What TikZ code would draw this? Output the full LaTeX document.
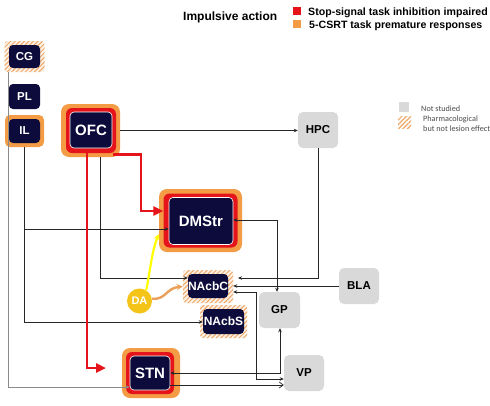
\documentclass[tikz,border=0pt]{standalone}
\usepackage{fontspec}
\setmainfont{Liberation Sans}
\newfontfamily\legfont{Carlito}
\usetikzlibrary{arrows.meta,patterns.meta,calc,backgrounds}
\definecolor{navy}{HTML}{0D0B3B}
\definecolor{ringred}{HTML}{E5141B}
\definecolor{ringorange}{HTML}{F39C45}
\definecolor{hatchor}{HTML}{EFA868}
\definecolor{hatchbg}{HTML}{FBF1E6}
\definecolor{greybox}{HTML}{D9D9D9}
\definecolor{dayellow}{HTML}{F4C419}
\definecolor{arrowyellow}{HTML}{FFFF00}
\definecolor{arroworange}{HTML}{E9A05A}
\definecolor{linegrey}{HTML}{8A8A8A}
\definecolor{lineblack}{HTML}{262626}
\begin{document}
\begin{tikzpicture}[x=1pt,y=-1pt,
  darkbox/.style={fill=navy, rounded corners=4pt, text=white, inner sep=0pt},
  darkwhite/.style={darkbox, draw=white, line width=0.6pt},
  orring/.style={fill=ringorange, rounded corners=8pt, inner sep=0pt},
  redring/.style={fill=ringred, rounded corners=6pt, inner sep=0pt},
  hatchbox/.style={fill=hatchbg, rounded corners=3pt, inner sep=0pt,
    postaction={pattern={Lines[angle=45,distance=3.2pt,line width=1pt]}, pattern color=hatchor}},
  greynode/.style={fill=greybox, rounded corners=5pt, inner sep=0pt, minimum width=40pt, minimum height=36pt,
    text=black, font=\fontsize{11.5}{12}\selectfont\bfseries},
  conn/.style={draw=lineblack, line width=0.7pt, -{Stealth[length=4pt,width=3.5pt]}},
  conn2/.style={draw=lineblack, line width=0.7pt, {Stealth[length=4pt,width=3.5pt]}-{Stealth[length=4pt,width=3.5pt]}},
  redarrow/.style={draw=ringred, line width=2.6pt, -{Triangle[length=10pt,width=9pt]}},
  legtext/.style={anchor=west, inner sep=0pt, font=\fontsize{10.6}{11}\selectfont\bfseries, text=black},
  smalltext/.style={anchor=west, inner sep=0pt, font=\legfont\fontsize{8.2}{9}\selectfont, text=black!70}
]
\useasboundingbox (0,0) rectangle (490,405);
\fill[white] (0,0) rectangle (490,405);

% ---------- legend ----------
\node[anchor=west, inner sep=0pt, font=\fontsize{12}{12}\selectfont\bfseries] (title) at (183,17.5) {Impulsive action};
\fill[ringred] (293,7) rectangle (301,15);
\fill[ringorange] (293,20) rectangle (301,28);
\node[legtext] (leg1) at (308,12.5) {Stop-signal task inhibition impaired};
\node[legtext] (leg2) at (309,25.5) {5-CSRT task premature responses};

\fill[greybox] (399,102) rectangle (409,112);
\node[smalltext] (ns) at (421,108.5) {Not studied};
\fill[pattern={Lines[angle=45,distance=3.2pt,line width=1.2pt]}, pattern color=hatchor] (398,116) rectangle (411,128);
\node[smalltext] (ph1) at (423,119.5) {Pharmacological};
\node[smalltext] (ph2) at (423,128.5) {but not lesion effect};

% ---------- nodes ----------
% CG
\node[hatchbox, minimum width=40pt, minimum height=31pt] (cgH) at (24.5,56.5) {};
\node[darkbox, minimum width=31pt, minimum height=23pt, font=\fontsize{11.5}{12}\selectfont\bfseries] (cg) at (24.5,56.5) {CG};
% PL
\node[darkbox, minimum width=31pt, minimum height=25pt, font=\fontsize{11.5}{12}\selectfont\bfseries] (pl) at (24.5,96.5) {PL};
% IL
\node[orring, rounded corners=5pt, minimum width=39pt, minimum height=32pt] (ilO) at (24.5,131) {};
\node[darkbox, minimum width=31pt, minimum height=24pt, font=\fontsize{11.5}{12}\selectfont\bfseries] (il) at (24.5,131) {IL};
% OFC
\node[orring, minimum width=59pt, minimum height=53pt] (ofcO) at (90.5,130.5) {};
\node[redring, minimum width=50pt, minimum height=45pt] (ofcR) at (91,130.5) {};
\node[darkwhite, minimum width=42pt, minimum height=36pt, font=\fontsize{15}{15}\selectfont\bfseries] (ofc) at (91,130) {OFC};
% DMStr
\node[orring, minimum width=83pt, minimum height=63pt] (dmstrO) at (200.5,220.5) {};
\node[redring, minimum width=74pt, minimum height=54pt] (dmstrR) at (200.5,220.5) {};
\node[darkwhite, minimum width=64pt, minimum height=47pt, font=\fontsize{15}{15}\selectfont\bfseries] (dmstr) at (201,221) {DMStr};
% NAcbC
\node[hatchbox, minimum width=50pt, minimum height=33pt] (nacbcH) at (208,286.5) {};
\node[darkbox, minimum width=40pt, minimum height=24pt, font=\fontsize{12}{12}\selectfont\bfseries] (nacbc) at (208,286) {NAcbC};
% NAcbS
\node[hatchbox, minimum width=47pt, minimum height=33pt] (nacbsH) at (223.5,321.5) {};
\node[darkbox, minimum width=41pt, minimum height=25pt, font=\fontsize{12}{12}\selectfont\bfseries] (nacbs) at (223.5,321.5) {NAcbS};
% STN
\node[orring, minimum width=58pt, minimum height=50pt] (stnO) at (151,373) {};
\node[redring, minimum width=48pt, minimum height=42pt] (stnR) at (150,373) {};
\node[darkwhite, minimum width=40pt, minimum height=34pt, font=\fontsize{15}{15}\selectfont\bfseries] (stn) at (150,373) {STN};
% grey nodes
\node[greynode] (hpc) at (318,130) {HPC};
\node[greynode] (bla) at (359,286) {BLA};
\node[greynode, minimum width=41pt] (gp) at (279.5,310) {GP};
\node[greynode] (vp) at (304,373) {VP};
% DA
\node[circle, fill=dayellow, minimum size=25pt, inner sep=0pt, text=white,
  font=\fontsize{11}{11}\selectfont\bfseries] (da) at (139.5,301) {DA};

% ---------- connectors ----------
\begin{scope}[on background layer]
  \draw[conn, draw=linegrey] (pl.south -| 16,0) |- (nacbc.west |- 0,287);
\end{scope}
\draw[conn, draw=linegrey] (cgH.south -| 8,0) |- (stn.west |- 0,387);
\draw[conn] (ilO.south -| 24,0) |- (dmstr.west |- 0,229);
\draw[conn] (ilO.south -| 24,0) |- (nacbs.west |- 0,322);
\draw[conn] (ofcO.east) -- (ofcO.east -| hpc.west);
\draw[conn] (ofcO.south -| 100,0) |- (nacbc.west |- 0,278);

\coordinate (redtip) at (106,368);
\draw[redarrow] (ofcR.south -| 87,0) |- (redtip);
\draw[redarrow] ($(ofcR.south east)+(-3,1)$) -| (141,211) -- (dmstrR.west |- 0,211);

\coordinate (hpctip) at (238,278);
\draw[conn] (hpc.south) |- (hpctip);
\draw[conn] (bla.west) -- (bla.west -| nacbcH.east);
\draw[conn2] (dmstr.east |- 0,220) -| (gp.north -| 277,0);
\draw[conn2] (nacbcH.east |- 0,292) -| (256,379) -- (vp.west |- 0,379);
\draw[conn2] (stn.east |- 0,373) -| (gp.south -| 280,0);
\draw[draw=lineblack, line width=0.7pt, -{Straight Barb[length=4pt,width=6pt]}] (stn.east |- 0,385) -- (vp.west |- 0,385);

\coordinate (yelltip) at (159,234);
\draw[draw=arrowyellow, line width=2.2pt, -{Stealth[length=6pt,width=6pt]}]
  (da.58) .. controls (150,272) and (152,250) .. (yelltip);
\draw[draw=arroworange, line width=2.4pt, -{Stealth[length=6pt,width=6pt]}]
  (da.10) .. controls (166,300) and (166,288) .. (nacbcH.west);
\end{tikzpicture}
\end{document}
